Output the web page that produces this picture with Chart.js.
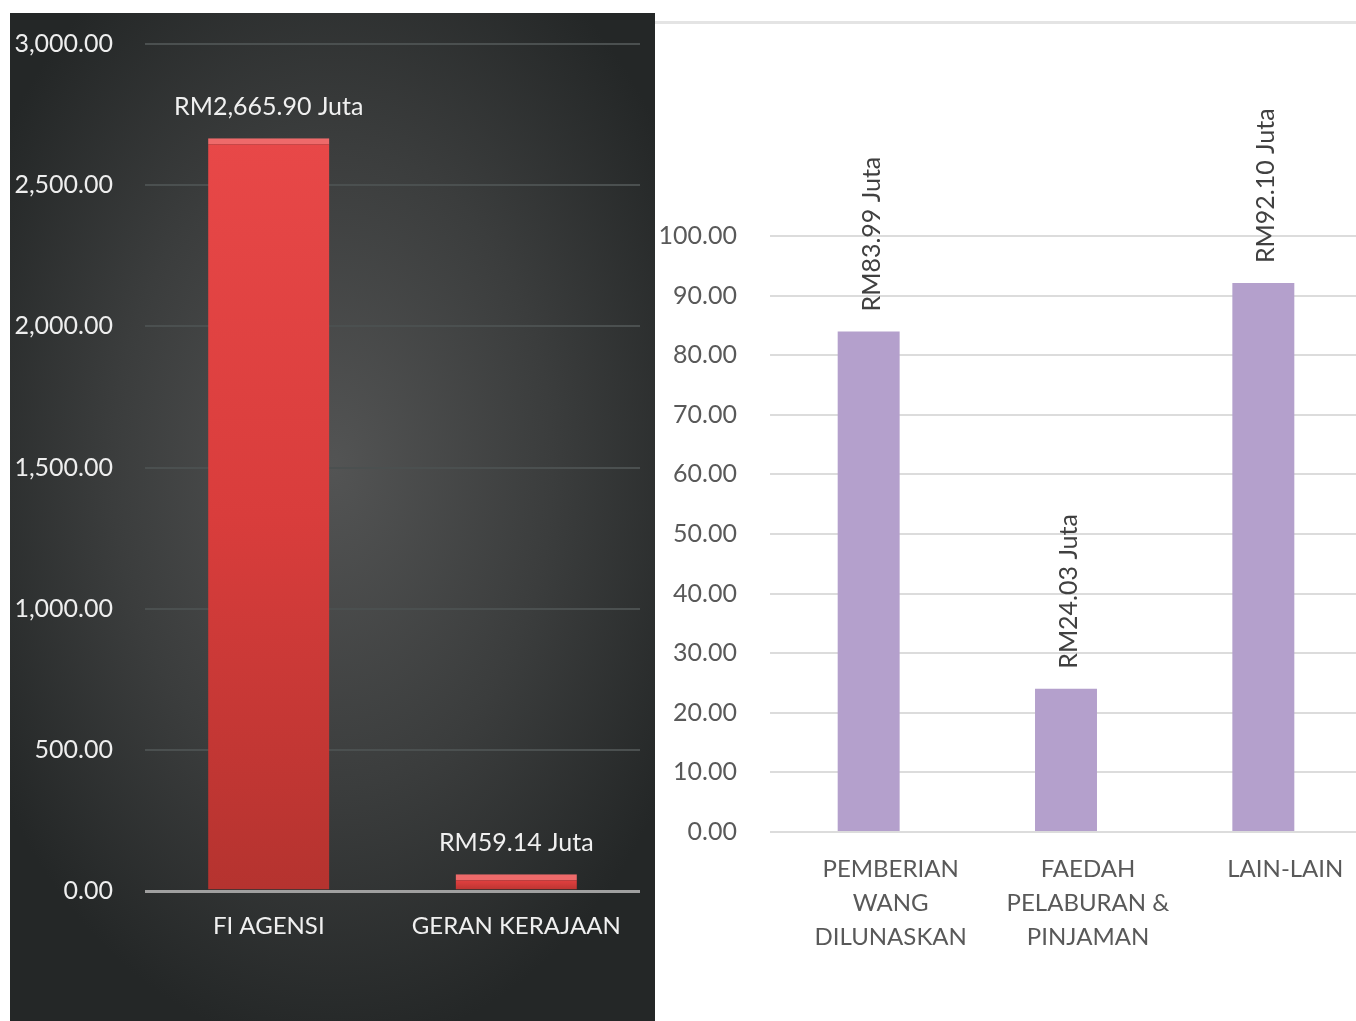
<!DOCTYPE html>
<html><head><meta charset="utf-8">
<script src="https://cdn.jsdelivr.net/npm/chart.js@4.4.1/dist/chart.umd.min.js"></script>
<style>
html,body{margin:0;padding:0;background:#fff;width:1356px;height:1021px;overflow:hidden;font-family:Lato,sans-serif;}
#left{position:absolute;left:10px;top:13px;width:645px;height:1008px;background:radial-gradient(ellipse 62% 58% at 50% 45%, #535454 0%, #3b3d3d 55%, #242727 100%);}
#right{position:absolute;left:655px;top:0;width:701px;height:1021px;overflow:hidden;background:#fff;}
#topline{position:absolute;left:655px;top:21px;width:701px;height:3px;background:#e4e4e4;}
canvas{display:block;}
</style></head>
<body>
<div id="left"><canvas id="c1" width="645" height="1008"></canvas></div>
<div id="right"><canvas id="c2" width="720" height="1021"></canvas></div>
<div id="topline"></div>
<script>
// ---- data ----
const leftCategories = ['FI AGENSI', 'GERAN KERAJAAN'];
const leftValues = [2665.90, 59.14];
const leftValueLabels = ['RM2,665.90 Juta', 'RM59.14 Juta'];
const leftTickMax = 3000;
const leftTickStep = 500;

const rightCategories = [['PEMBERIAN', 'WANG', 'DILUNASKAN'], ['FAEDAH', 'PELABURAN &', 'PINJAMAN'], 'LAIN-LAIN'];
const rightValues = [83.99, 24.03, 92.10];
const rightValueLabels = ['RM83.99 Juta', 'RM24.03 Juta', 'RM92.10 Juta'];
const rightTickMax = 100;
const rightTickStep = 10;

const fmt = v => Number(v).toLocaleString('en-US', {minimumFractionDigits: 2, maximumFractionDigits: 2});

const valueLabelPlugin = {
  id: 'valueLabels',
  afterDatasetsDraw(chart, args, opts) {
    const ctx = chart.ctx;
    const meta = chart.getDatasetMeta(0);
    ctx.save();
    ctx.font = opts.font;
    ctx.fillStyle = opts.color;
    meta.data.forEach((bar, i) => {
      const text = opts.labels[i];
      if (opts.rotate) {
        ctx.save();
        ctx.translate(bar.x + (opts.dx || 0), bar.y - opts.offset);
        ctx.rotate(-Math.PI / 2);
        ctx.textAlign = 'left';
        ctx.textBaseline = 'middle';
        ctx.fillText(text, 0, 0);
        ctx.restore();
      } else {
        ctx.textAlign = 'center';
        ctx.textBaseline = 'middle';
        ctx.fillText(text, bar.x, bar.y - opts.offset);
      }
    });
    ctx.restore();
  }
};

function redFill(c) {
  const chart = c.chart;
  const area = chart.chartArea;
  if (!area || !chart.scales.y) return '#d83c3c';
  const top = chart.scales.y.getPixelForValue(c.raw);
  const bottom = chart.scales.y.getPixelForValue(0);
  const g = chart.ctx.createLinearGradient(0, top, 0, bottom);
  g.addColorStop(0, '#e84848');
  g.addColorStop(0.5, '#d93d3c');
  g.addColorStop(1, '#b5332f');
  return g;
}

new Chart(document.getElementById('c1'), {
  type: 'bar',
  data: {
    labels: leftCategories,
    datasets: [{
      data: leftValues,
      backgroundColor: redFill,
      borderColor: '#ee6a6a',
      borderWidth: {top: 6, left: 0, right: 0, bottom: 0},
      borderSkipped: false,
      barPercentage: 0.49,
      categoryPercentage: 1
    }]
  },
  options: {
    responsive: false,
    animation: false,
    layout: {padding: {top: 31, right: 15, left: 0, bottom: 0}},
    plugins: {
      legend: {display: false},
      tooltip: {enabled: false},
      valueLabels: {labels: leftValueLabels, font: '25px Lato', color: '#f0f0f0', offset: 31, rotate: false}
    },
    scales: {
      x: {
        grid: {display: false},
        border: {display: false},
        ticks: {color: '#f0f0f0', font: {family: 'Lato', size: 24}, padding: 13},
        afterFit(s) { s.height = 130; }
      },
      y: {
        min: 0, max: leftTickMax,
        border: {display: false},
        grid: {
          drawTicks: false,
          color: c => c.tick.value === 0 ? '#a0a0a0' : '#4b5050',
          lineWidth: c => c.tick.value === 0 ? 3 : 2
        },
        ticks: {stepSize: leftTickStep, color: '#eeeeee', font: {family: 'Lato', size: 25}, padding: 32, callback: v => fmt(v)},
        afterFit(s) { s.width = 135; s.paddingTop = 0; s.paddingBottom = 0; }
      }
    }
  },
  plugins: [valueLabelPlugin]
});

new Chart(document.getElementById('c2'), {
  type: 'bar',
  data: {
    labels: rightCategories,
    datasets: [{
      data: rightValues,
      backgroundColor: '#b4a0cc',
      barPercentage: 0.314,
      categoryPercentage: 1
    }]
  },
  options: {
    responsive: false,
    animation: false,
    layout: {padding: {top: 236, right: 13, left: 0, bottom: 0}},
    plugins: {
      legend: {display: false},
      tooltip: {enabled: false},
      valueLabels: {labels: rightValueLabels, font: '25px Lato', color: '#404040', offset: 20, dx: 3, rotate: true}
    },
    scales: {
      x: {
        grid: {display: false},
        border: {display: false},
        ticks: {color: '#595959', font: {family: 'Lato', size: 24, lineHeight: 1.42}, padding: 12, labelOffset: 22, maxRotation: 0, autoSkip: false},
        afterFit(s) { s.height = 189; }
      },
      y: {
        min: 0, max: rightTickMax,
        border: {display: false},
        grid: {drawTicks: false, color: '#dcdcdc', lineWidth: 2},
        ticks: {stepSize: rightTickStep, color: '#595959', font: {family: 'Lato', size: 25}, padding: 33, callback: v => fmt(v)},
        afterFit(s) { s.width = 115; s.paddingTop = 0; s.paddingBottom = 0; }
      }
    }
  },
  plugins: [valueLabelPlugin]
});
</script>
</body></html>
